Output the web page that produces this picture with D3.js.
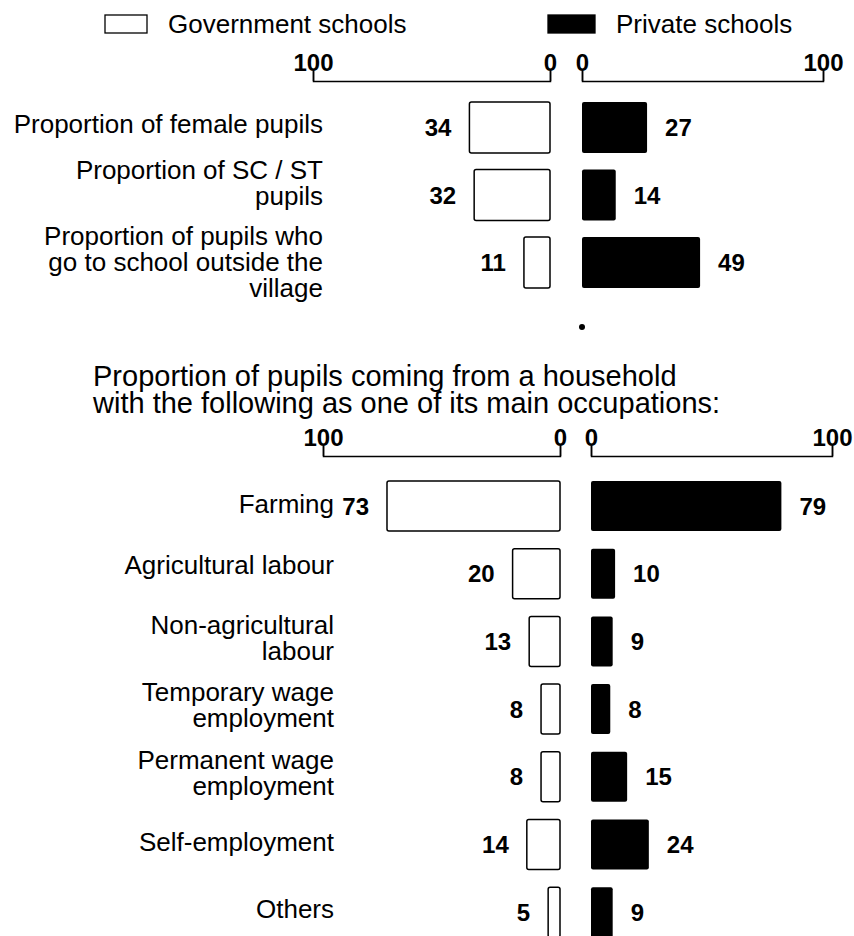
<!DOCTYPE html>
<html>
<head>
<meta charset="utf-8">
<script src="https://cdn.jsdelivr.net/npm/d3@7/dist/d3.min.js"></script>
<style>
  html, body { margin: 0; padding: 0; background: #fff; }
  svg { display: block; font-family: "Liberation Sans", Arial, Helvetica, sans-serif; }
  .axis .domain, .axis .tick line { stroke: #000; stroke-width: 1.5; }
  .axis text { font-size: 24px; font-weight: bold; fill: #000; font-family: "Liberation Sans", Arial, sans-serif; }
</style>
</head>
<body>
<script>
// ---- data ----
const legendLabels = ["Government schools", "Private schools"];
const axisTicks = [0, 100];

const pupilCategories = [
  ["Proportion of female pupils"],
  ["Proportion of SC / ST", "pupils"],
  ["Proportion of pupils who", "go to school outside the", "village"]
];
const pupilGovernment = [34, 32, 11];
const pupilPrivate = [27, 14, 49];

const subtitleLines = [
  "Proportion of pupils coming from a household",
  "with the following as one of its main occupations:"
];

const occupationCategories = [
  ["Farming"],
  ["Agricultural labour"],
  ["Non-agricultural", "labour"],
  ["Temporary wage", "employment"],
  ["Permanent wage", "employment"],
  ["Self-employment"],
  ["Others"]
];
const occupationGovernment = [73, 20, 13, 8, 8, 14, 5];
const occupationPrivate = [79, 10, 9, 8, 15, 24, 9];

// ---- layout ----
const W = 854, H = 936;
// vertical nudges (px) for individual category labels
const pupilLabelNudge = [-3, -11, 0];
const occupationLabelNudge = [-1, -8, -2, -3, -3, -2, -2];

const svg = d3.select("body").append("svg").attr("width", W).attr("height", H);

// legend
const legend = [
  { label: legendLabels[0], x: 105, w: 42, fill: "#fff", tx: 168 },
  { label: legendLabels[1], x: 548, w: 47, fill: "#000", tx: 616 }
];
legend.forEach(d => {
  svg.append("rect").attr("x", d.x).attr("y", 15).attr("width", d.w).attr("height", 18)
    .attr("fill", d.fill).attr("stroke", "#000").attr("stroke-width", 1.3);
  svg.append("text").attr("x", d.tx).attr("y", 33).attr("font-size", 26).attr("fill", "#000").text(d.label);
});

function drawPanel(cfg) {
  const { cats, gov, pri, axisY, barTop, step, barH, govRange, priRange, labelRight, nudge } = cfg;
  const n = cats.length;
  const pad = 1 - barH / step;
  const y = d3.scaleBand().domain(d3.range(n))
    .range([barTop, barTop + step * (n - pad)]).paddingInner(pad).paddingOuter(0);
  const xGov = d3.scaleLinear().domain([0, 100]).range(govRange);
  const xPri = d3.scaleLinear().domain([0, 100]).range(priRange);

  // bracket-style axes on top of each half
  [xGov, xPri].forEach(sc => {
    const g = svg.append("g").attr("class", "axis").attr("transform", `translate(0,${axisY})`)
      .call(d3.axisTop(sc).tickValues(axisTicks).tickSize(10).tickSizeOuter(10).tickPadding(0));
    g.selectAll(".tick text").attr("dy", "0em");
  });

  // government bars (outlined, growing leftwards)
  svg.append("g").selectAll("rect").data(gov).join("rect")
    .attr("x", d => xGov(d)).attr("y", (d, i) => y(i))
    .attr("width", d => xGov(0) - xGov(d)).attr("height", y.bandwidth())
    .attr("rx", 2).attr("fill", "#fff").attr("stroke", "#000").attr("stroke-width", 1.5);

  // private bars (solid, growing rightwards)
  svg.append("g").selectAll("rect").data(pri).join("rect")
    .attr("x", xPri(0)).attr("y", (d, i) => y(i))
    .attr("width", d => xPri(d) - xPri(0)).attr("height", y.bandwidth())
    .attr("rx", 2).attr("fill", "#000");

  const valueGap = 18;
  svg.append("g").selectAll("text").data(gov).join("text")
    .attr("x", d => xGov(d) - valueGap).attr("y", (d, i) => y(i) + y.bandwidth() / 2)
    .attr("dy", "0.36em").attr("text-anchor", "end")
    .attr("font-size", 24).attr("font-weight", "bold").text(d => d);
  svg.append("g").selectAll("text").data(pri).join("text")
    .attr("x", d => xPri(d) + valueGap).attr("y", (d, i) => y(i) + y.bandwidth() / 2)
    .attr("dy", "0.36em").attr("text-anchor", "start")
    .attr("font-size", 24).attr("font-weight", "bold").text(d => d);

  // category labels, right-aligned, multi-line blocks centred on the bar
  const lh = 26;
  cats.forEach((lines, i) => {
    const cy = y(i) + y.bandwidth() / 2 + nudge[i];
    const t = svg.append("text").attr("text-anchor", "end").attr("font-size", 26).attr("fill", "#000");
    lines.forEach((ln, j) => {
      t.append("tspan").attr("x", labelRight)
        .attr("y", cy - (lines.length - 1) * lh / 2 + j * lh + 8).text(ln);
    });
  });
  return { xPri, y };
}

const pupilPanel = drawPanel({
  cats: pupilCategories, gov: pupilGovernment, pri: pupilPrivate,
  axisY: 81, barTop: 102, step: 67.5, barH: 51,
  govRange: [550, 313], priRange: [582, 823], labelRight: 323, nudge: pupilLabelNudge
});

// small stray point below the upper panel
svg.append("circle").attr("cx", pupilPanel.xPri(0)).attr("cy", 327).attr("r", 3).attr("fill", "#000");

// subtitle for the occupation panel
subtitleLines.forEach((s, i) => {
  svg.append("text").attr("x", 93).attr("y", 386 + i * 27).attr("font-size", 29).attr("fill", "#000").text(s);
});

drawPanel({
  cats: occupationCategories, gov: occupationGovernment, pri: occupationPrivate,
  axisY: 456, barTop: 481, step: 67.7, barH: 50,
  govRange: [560, 323], priRange: [591, 832], labelRight: 334, nudge: occupationLabelNudge
});
</script>
</body>
</html>
